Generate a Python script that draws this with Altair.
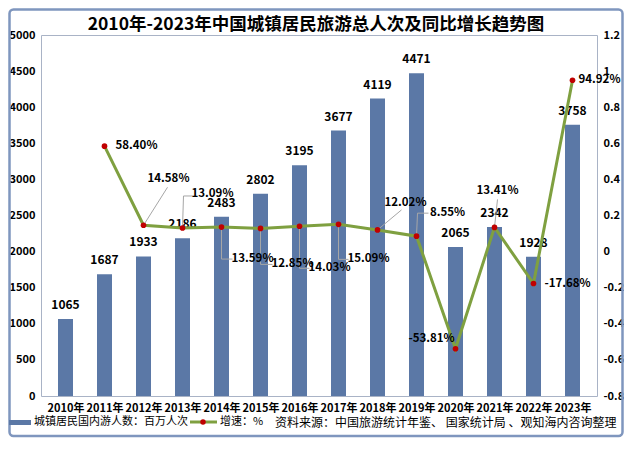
import altair as alt
import pandas as pd

# ---------------- data ----------------
years = ["2010年", "2011年", "2012年", "2013年", "2014年", "2015年", "2016年",
         "2017年", "2018年", "2019年", "2020年", "2021年", "2022年", "2023年"]
visits = [1065, 1687, 1933, 2186, 2483, 2802, 3195, 3677, 4119, 4471, 2065, 2342, 1928, 3758]
growth = [None, 0.5840, 0.1458, 0.1309, 0.1359, 0.1285, 0.1403, 0.1509, 0.1202, 0.0855,
          -0.5381, 0.1341, -0.1768, 0.9492]
growth_labels = [None, "58.40%", "14.58%", "13.09%", "13.59%", "12.85%", "14.03%", "15.09%",
                 "12.02%", "8.55%", "-53.81%", "13.41%", "-17.68%", "94.92%"]
left_ticks = [0, 500, 1000, 1500, 2000, 2500, 3000, 3500, 4000, 4500, 5000]
right_ticks = [-0.8, -0.6, -0.4, -0.2, 0, 0.2, 0.4, 0.6, 0.8, 1, 1.2]

title_text = "2010年-2023年中国城镇居民旅游总人次及同比增长趋势图"
bar_legend = "城镇居民国内游人数：百万人次"
line_legend = "增速：%"
source_text = "资料来源：中国旅游统计年鉴、 国家统计局 、观知海内咨询整理"

# ---------------- style ----------------
FONT = "Noto Sans CJK SC"
BAR = "#5B78A6"
LINE = "#7FA040"
DOT = "#C00000"
LEAD = "#A6A6A6"

# label offsets (pixels) for growth labels, by year index
label_offsets = {1: (32, 0), 2: (25, -46), 3: (30, -34), 4: (31, 32), 5: (32, 36),
                 6: (30, 42), 7: (30, 35), 8: (28, -27), 9: (31, -23), 10: (-24, -10),
                 11: (3, -36), 12: (34, 0), 13: (27, 0)}
# leader polylines (pixel offsets from the point)
leaders = {2: [(0, 0), (24, -38)], 3: [(0, 0), (1, -32), (10, -32)],
           4: [(0, 0), (0, 32), (11, 32)], 5: [(0, 0), (0, 36), (12, 36)],
           6: [(0, 0), (0, 42), (10, 42)], 7: [(0, 0), (0, 35), (10, 35)],
           8: [(0, 0), (24, -20)], 9: [(0, 0), (1, -23), (12, -23)],
           11: [(0, 0), (3, -28)]}

df = pd.DataFrame({"idx": list(range(len(years))), "year": years, "visits": visits,
                   "growth": growth, "glabel": growth_labels})

label_expr = "[" + ",".join("'" + y + "'" for y in years) + "][datum.value]"
x = alt.X("idx:Q",
          scale=alt.Scale(domain=[-0.5, len(years) - 0.5], nice=False, zero=False),
          axis=alt.Axis(values=list(range(len(years))), labelExpr=label_expr, title=None,
                        labelPadding=6, labelFlush=False, labelOverlap=False, labelBound=False,
                        labelFontSize=11))

yb = alt.Y("visits:Q", scale=alt.Scale(domain=[0, 5000], nice=False),
           axis=alt.Axis(values=left_ticks, title=None, orient="left", labelPadding=6,
                         format="d", labelFontSize=11))
yg = alt.Y("growth:Q", scale=alt.Scale(domain=[-0.8, 1.2], nice=False, zero=False),
           axis=alt.Axis(values=right_ticks, title=None, orient="right", labelPadding=6,
                         format="~g", labelFontSize=11,
                         labelExpr="replace(datum.label, '\u2212', '-')"))

bars = alt.Chart(df).mark_bar(size=15, color=BAR).encode(x=x, y=yb)
bar_labels = alt.Chart(df).mark_text(dy=-7, baseline="bottom", fontWeight="bold", fontSize=12,
                                     font=FONT, color="#000").encode(x=x, y=yb, text="visits:Q")
bar_group = alt.layer(bars, bar_labels)

gdf = alt.Chart(df).transform_filter("isValid(datum.growth)")
line = gdf.mark_line(color=LINE, strokeWidth=3).encode(x=x, y=yg)
points = gdf.mark_circle(color=DOT, size=32, opacity=1).encode(x=x, y=yg)

lead_layers = []
for i, pts in leaders.items():
    for a, b in zip(pts[:-1], pts[1:]):
        lead_layers.append(
            alt.Chart(df).transform_filter(f"datum.idx == {i}")
            .mark_rule(color=LEAD, strokeWidth=1, xOffset=a[0], yOffset=a[1],
                       x2Offset=b[0], y2Offset=b[1])
            .encode(x=x, x2="idx:Q", y=yg, y2="growth:Q"))

text_layers = []
for i, (ddx, ddy) in label_offsets.items():
    text_layers.append(
        alt.Chart(df).transform_filter(f"datum.idx == {i}")
        .mark_text(dx=ddx, dy=ddy, align="center", baseline="middle", fontWeight="bold",
                   fontSize=11.5, font=FONT, color="#000")
        .encode(x=x, y=yg, text="glabel:N"))

line_group = alt.layer(*lead_layers, line, points, *text_layers)

one = pd.DataFrame({"t": [title_text], "b": [bar_legend], "l": [line_legend], "s": [source_text]})
base1 = alt.Chart(one)

frame = base1.mark_rect(fill="#ffffff", fillOpacity=0, stroke="#7F96BE", strokeWidth=2.5,
                        cornerRadius=4).encode(
    x=alt.value(-31.5), x2=alt.value(581.5), y=alt.value(-25.5), y2=alt.value(401))
title = base1.mark_text(fontSize=17.5, fontWeight="bold", font=FONT, color="#000",
                        align="center", baseline="middle").encode(
    x=alt.value(275), y=alt.value(-10), text="t:N")
sw_bar = base1.mark_rect(color=BAR).encode(
    x=alt.value(-32), x2=alt.value(-10), y=alt.value(385), y2=alt.value(390))
t_bar = base1.mark_text(fontSize=11, font=FONT, color="#000", align="left",
                        baseline="middle").encode(x=alt.value(-7), y=alt.value(387), text="b:N")
sw_line = base1.mark_rule(color=LINE, strokeWidth=3).encode(
    x=alt.value(149), x2=alt.value(176), y=alt.value(387))
sw_dot = base1.mark_circle(color=DOT, size=30, opacity=1).encode(
    x=alt.value(162), y=alt.value(387))
t_line = base1.mark_text(fontSize=11, font=FONT, color="#000", align="left",
                         baseline="middle").encode(x=alt.value(179), y=alt.value(387), text="l:N")
t_src = base1.mark_text(fontSize=12, font=FONT, color="#000", align="left",
                        baseline="middle").encode(x=alt.value(234), y=alt.value(388), text="s:N")

chart = alt.layer(
    frame, bar_group, line_group, title, sw_bar, t_bar, sw_line, sw_dot, t_line, t_src
).resolve_scale(y="independent").properties(
    width=556, height=361,
    autosize=alt.AutoSizeParams(type="none"),
    padding={"left": 33, "top": 27, "right": 27, "bottom": 43},
).configure_view(
    stroke="#A9B3C6", strokeWidth=1
).configure_axis(
    labelFont=FONT, labelFontSize=11.5, labelFontWeight="bold", labelColor="#000",
    ticks=False, domain=False, grid=False
)

chart.save("out.html", embed_options={"renderer": "svg", "actions": False})
